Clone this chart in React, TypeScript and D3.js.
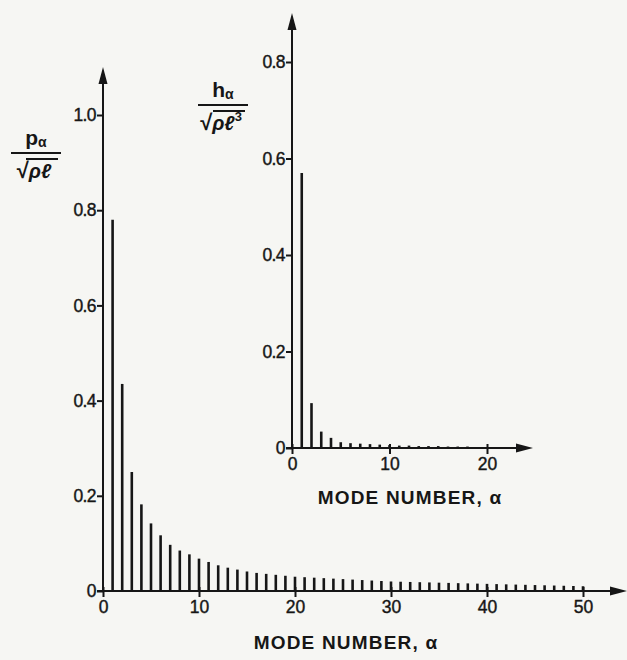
import { useEffect, useRef } from 'react';
import * as d3 from 'd3';

// p_alpha / sqrt(rho l) for mode numbers 1..50 (main plot)
const mainModes = d3.range(1, 51);
const mainValues = [
  0.78, 0.435, 0.25, 0.182, 0.142, 0.117, 0.097, 0.085, 0.077, 0.068,
  0.061, 0.054, 0.049, 0.045, 0.041, 0.038, 0.036, 0.034, 0.032, 0.030,
  0.029, 0.028, 0.027, 0.026, 0.025, 0.024, 0.023, 0.022, 0.021, 0.020,
  0.0195, 0.019, 0.0185, 0.018, 0.0175, 0.017, 0.0165, 0.016, 0.0155, 0.015,
  0.0145, 0.014, 0.0135, 0.013, 0.0125, 0.012, 0.0115, 0.011, 0.0105, 0.010,
];

// h_alpha / sqrt(rho l^3) for mode numbers 1..18 (inset)
const insetModes = d3.range(1, 19);
const insetValues = [
  0.57, 0.093, 0.034, 0.021, 0.012, 0.010, 0.009, 0.008, 0.007, 0.006,
  0.005, 0.005, 0.004, 0.004, 0.004, 0.003, 0.003, 0.003,
];

const mainYTicks = [0, 0.2, 0.4, 0.6, 0.8, 1.0];
const mainXTicks = [0, 10, 20, 30, 40, 50];
const insetYTicks = [0, 0.2, 0.4, 0.6, 0.8];
const insetXTicks = [0, 10, 20];
const xTitle = 'MODE NUMBER, α';

const INK = '#161616';
const FONT = '"Liberation Sans", Arial, sans-serif';

const fmtY = (v: number) => (v === 0 ? '0' : v.toFixed(1));

export default function App() {
  const svgRef = useRef<SVGSVGElement>(null);

  useEffect(() => {
    if (!svgRef.current) return;
    const svg = d3.select(svgRef.current);
    svg.selectAll('*').remove();

    svg.append('rect').attr('width', 627).attr('height', 660).attr('fill', '#f6f6f3');

    type Panel = {
      values: number[];
      modes: number[];
      x: d3.ScaleLinear<number, number>;
      y: d3.ScaleLinear<number, number>;
      xTicks: number[];
      yTicks: number[];
      xEnd: number;
      yTop: number;
    };

    const drawPanel = (p: Panel) => {
      const g = svg.append('g');
      const x0 = p.x(0);
      const y0 = p.y(0);

      // bars
      g.selectAll('line.bar')
        .data(p.values)
        .enter().append('line')
        .attr('x1', (_, i) => p.x(p.modes[i]))
        .attr('x2', (_, i) => p.x(p.modes[i]))
        .attr('y1', y0)
        .attr('y2', (d) => p.y(d))
        .attr('stroke', INK)
        .attr('stroke-width', 2.6);

      // y axis
      const ya = g.append('g')
        .attr('transform', `translate(${x0},0)`)
        .call(d3.axisLeft(p.y).tickValues(p.yTicks).tickSize(6).tickPadding(1).tickFormat((v) => fmtY(+v)));
      ya.select('.domain').remove();
      ya.selectAll('line').attr('stroke', INK).attr('stroke-width', 2);
      ya.selectAll('text')
        .attr('fill', INK)
        .attr('font-family', FONT)
        .attr('font-size', 17.5)
        .attr('stroke', INK)
        .attr('stroke-width', 0.4)
        .attr('letter-spacing', -0.6);

      // x axis
      const xa = g.append('g')
        .attr('transform', `translate(0,${y0})`)
        .call(d3.axisBottom(p.x).tickValues(p.xTicks).tickSize(6).tickPadding(4).tickFormat((v) => `${v}`));
      xa.select('.domain').remove();
      xa.selectAll('line').attr('stroke', INK).attr('stroke-width', 2).attr('y1', -4);
      xa.selectAll('text')
        .attr('fill', INK)
        .attr('font-family', FONT)
        .attr('font-size', 17.5)
        .attr('stroke', INK)
        .attr('stroke-width', 0.4);

      // axis lines with arrows
      g.append('line')
        .attr('x1', x0).attr('x2', x0)
        .attr('y1', y0 + 1).attr('y2', p.yTop + 10)
        .attr('stroke', INK).attr('stroke-width', 2);
      g.append('path')
        .attr('d', `M${x0},${p.yTop} L${x0 - 4.5},${p.yTop + 17} L${x0 + 4.5},${p.yTop + 17} Z`)
        .attr('fill', INK);

      g.append('line')
        .attr('x1', x0 - 6).attr('x2', p.xEnd - 10)
        .attr('y1', y0).attr('y2', y0)
        .attr('stroke', INK).attr('stroke-width', 2);
      g.append('path')
        .attr('d', `M${p.xEnd},${y0} L${p.xEnd - 17},${y0 - 4.5} L${p.xEnd - 17},${y0 + 4.5} Z`)
        .attr('fill', INK);
    };

    const mainX = d3.scaleLinear().domain([0, 50]).range([103, 583]);
    const mainY = d3.scaleLinear().domain([0, 1]).range([591, 115]);
    drawPanel({
      values: mainValues, modes: mainModes, x: mainX, y: mainY,
      xTicks: mainXTicks, yTicks: mainYTicks, xEnd: 627, yTop: 67,
    });

    const insetX = d3.scaleLinear().domain([0, 20]).range([292, 487]);
    const insetY = d3.scaleLinear().domain([0, 0.8]).range([448, 62]);
    drawPanel({
      values: insetValues, modes: insetModes, x: insetX, y: insetY,
      xTicks: insetXTicks, yTicks: insetYTicks, xEnd: 533, yTop: 13,
    });

    // x titles
    const title = (cx: number, y: number) =>
      svg.append('text')
        .attr('x', cx).attr('y', y)
        .attr('text-anchor', 'middle')
        .attr('font-family', FONT)
        .attr('font-weight', 'bold')
        .attr('font-size', 19)
        .attr('letter-spacing', 1.2)
        .attr('fill', INK)
        .text(xTitle);
    title(346, 649);
    title(410, 504);

    // fraction-style y labels
    const fraction = (cx: number, top: number, num: string, rad: string, sup: string | null) => {
      const g = svg.append('g').attr('font-family', FONT).attr('fill', INK).attr('font-weight', 'bold');
      const n = g.append('text').attr('x', cx).attr('y', top + 11).attr('text-anchor', 'middle').attr('font-size', 21);
      n.append('tspan').text(num);
      n.append('tspan').attr('font-size', 14).attr('dy', 2).text('α');

      g.append('line')
        .attr('x1', cx - 25).attr('x2', cx + 25)
        .attr('y1', top + 19).attr('y2', top + 19)
        .attr('stroke', INK).attr('stroke-width', 2.2);

      const d = g.append('text').attr('x', cx - 2).attr('y', top + 44).attr('text-anchor', 'middle').attr('font-size', 20);
      d.append('tspan').attr('font-size', 22).text('√');
      d.append('tspan').attr('font-style', 'italic').text(rad);
      if (sup) d.append('tspan').attr('font-size', 13).attr('dy', -9).text(sup);

      g.append('line')
        .attr('x1', cx - 10).attr('x2', cx + 22)
        .attr('y1', top + 25).attr('y2', top + 25)
        .attr('stroke', INK).attr('stroke-width', 2);
    };
    fraction(36, 134, 'p', 'ρℓ', null);
    fraction(223, 86, 'h', 'ρℓ', '3');
  }, []);

  return (
    <svg
      ref={svgRef}
      width={627}
      height={660}
      style={{ position: 'absolute', left: 0, top: 0, display: 'block' }}
    />
  );
}
